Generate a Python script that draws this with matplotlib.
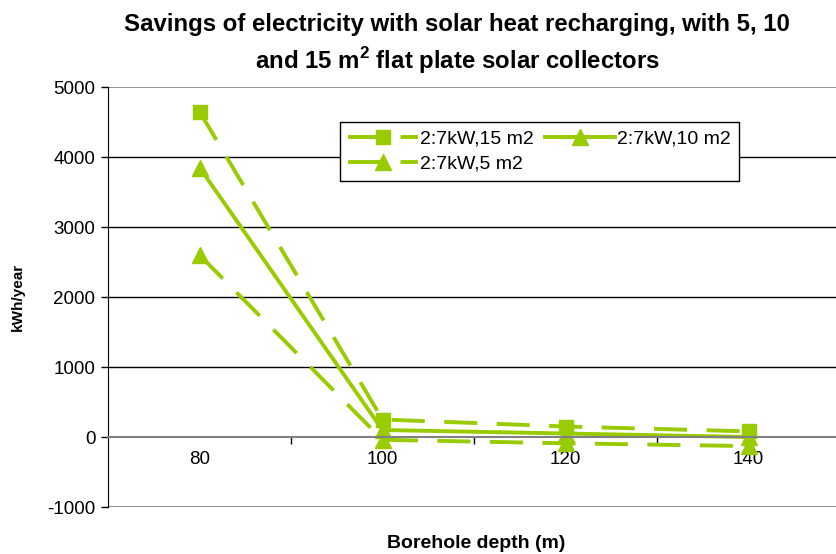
import matplotlib
matplotlib.use("Agg")
import matplotlib.pyplot as plt

plt.rcParams["font.family"] = ["Liberation Sans", "DejaVu Sans"]
plt.rcParams["mathtext.fontset"] = "custom"
plt.rcParams["mathtext.bf"] = "Liberation Sans:bold"
plt.rcParams["mathtext.rm"] = "Liberation Sans"

# borehole depth categories and yearly savings per collector area
depths = ["80", "100", "120", "140"]
savings_15m2 = [4650, 250, 150, 80]
savings_10m2 = [3850, 100, 50, 0]
savings_5m2 = [2600, -40, -90, -130]

y_ticks = [-1000, 0, 1000, 2000, 3000, 4000, 5000]

green = "#99CC00"
gray = "#808080"

fig = plt.figure(figsize=(8.37, 5.54), dpi=100)
ax = fig.add_axes([108 / 837, 47 / 554, 732 / 837, 420 / 554])

x = range(1, len(depths) + 1)
dash = (8.5, 5)
l15, = ax.plot(x, savings_15m2, color=green, lw=2.8, dashes=dash,
               marker="s", ms=10, label="2:7kW,15 m2", clip_on=False)
l10, = ax.plot(x, savings_10m2, color=green, lw=2.8,
               marker="^", ms=11, label="2:7kW,10 m2", clip_on=False)
l5, = ax.plot(x, savings_5m2, color=green, lw=2.8, dashes=dash,
              marker="^", ms=11, label="2:7kW,5 m2", clip_on=False)

ax.set_xlim(0.5, len(depths) + 0.5)
ax.set_ylim(y_ticks[0], y_ticks[-1])

# horizontal grid: black inside, gray at the plot frame
for v in y_ticks:
    if v == 0:
        continue
    c = gray if v in (y_ticks[0], y_ticks[-1]) else "black"
    ax.axhline(v, color=c, lw=1.2 if c == gray else 1.0, zorder=0)

ax.spines["top"].set_visible(False)
ax.spines["right"].set_visible(False)
ax.spines["left"].set_color("black")
ax.spines["bottom"].set_position(("data", 0))
ax.spines["bottom"].set_color(gray)
ax.spines["bottom"].set_linewidth(1.5)

ax.set_yticks(y_ticks)
ax.set_yticklabels([str(v) for v in y_ticks], fontsize=13.5)
ax.tick_params(axis="y", direction="out", length=5, width=1, pad=4)

# category labels sit on minor ticks, separators on major ticks
ax.set_xticks([i + 0.5 for i in range(1, len(depths))])
ax.set_xticklabels([])
ax.set_xticks(list(x), minor=True)
ax.set_xticklabels(depths, minor=True, fontsize=13.5)
ax.tick_params(axis="x", which="major", direction="out", length=5,
               width=1, color="black")
ax.tick_params(axis="x", which="minor", length=0, pad=10)

fig.text(457 / 837, 1 - 25 / 554,
         "Savings of electricity with solar heat recharging, with 5, 10",
         ha="center", va="center", fontsize=17.3, fontweight="bold")
fig.text(457 / 837, 1 - 61 / 554,
         r"and 15 m$^\mathbf{2}$ flat plate solar collectors",
         ha="center", va="center", fontsize=17.3, fontweight="bold")

fig.text(476 / 837, 1 - 543 / 554, "Borehole depth (m)",
         ha="center", va="center", fontsize=14, fontweight="bold")
fig.text(18 / 837, 1 - 297 / 554, "kWh/year", rotation=90,
         ha="center", va="center", fontsize=11, fontweight="bold")

leg = fig.legend([l15, l5, l10], [l15.get_label(), l5.get_label(), l10.get_label()],
                 loc="upper left", bbox_to_anchor=(340 / 837, 1 - 122 / 554),
                 ncol=2, fontsize=14, frameon=True, fancybox=False,
                 edgecolor="black", framealpha=1, handlelength=3.6,
                 handletextpad=0.1, columnspacing=0.6, borderpad=0.4,
                 labelspacing=0.4, borderaxespad=0)
leg.get_frame().set_linewidth(1.0)

fig.savefig("out.png", dpi=100)
